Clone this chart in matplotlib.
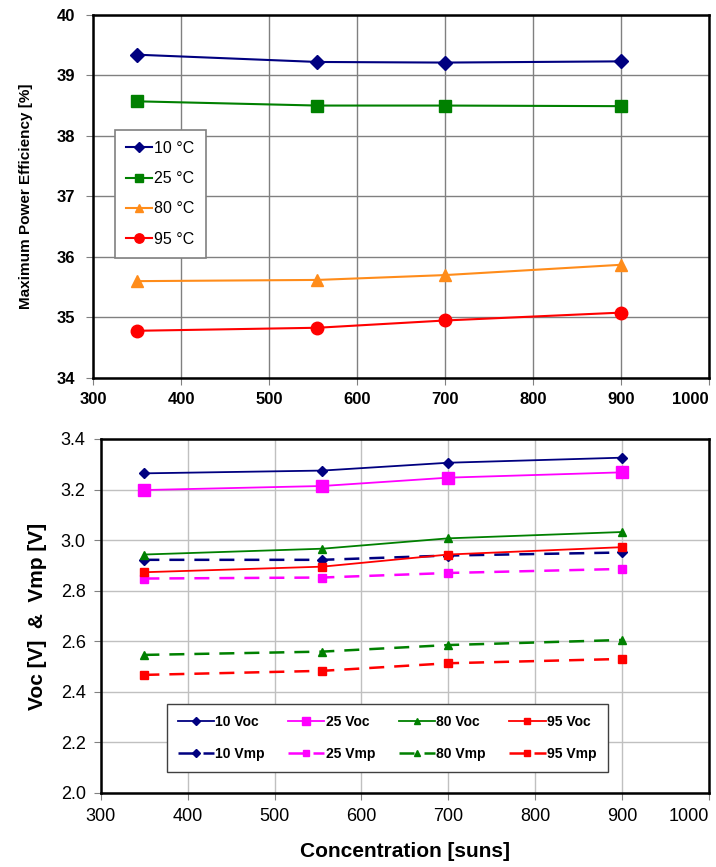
import matplotlib
matplotlib.use('Agg')
import matplotlib.pyplot as plt
from matplotlib.ticker import MultipleLocator, FormatStrFormatter

plt.rcParams['font.family'] = ['Liberation Sans', 'DejaVu Sans']

conc = [350, 555, 700, 900]

# top panel: max power efficiency [%]
eff_labels = ['10 °C', '25 °C', '80 °C', '95 °C']
eff_10 = [39.34, 39.22, 39.21, 39.23]
eff_25 = [38.57, 38.50, 38.50, 38.49]
eff_80 = [35.60, 35.62, 35.70, 35.87]
eff_95 = [34.78, 34.83, 34.95, 35.08]

# bottom panel: Voc / Vmp [V]
voc_10 = [3.264, 3.275, 3.306, 3.326]
voc_25 = [3.198, 3.214, 3.247, 3.268]
voc_80 = [2.943, 2.966, 3.007, 3.032]
voc_95 = [2.873, 2.895, 2.943, 2.972]
vmp_10 = [2.922, 2.922, 2.939, 2.951]
vmp_25 = [2.848, 2.852, 2.870, 2.886]
vmp_80 = [2.546, 2.559, 2.585, 2.605]
vmp_95 = [2.467, 2.483, 2.513, 2.530]

navy = '#000080'
green = '#008000'
orange = '#FF8C1A'
red = '#FF0000'
magenta = '#FF00FF'

fig = plt.figure(figsize=(7.16, 8.67), dpi=100)

# ---- top
ax1 = fig.add_axes([0.130, 0.564, 0.860, 0.419])
ax1.plot(conc, eff_10, color=navy, marker='D', ms=7, lw=1.5, label=eff_labels[0])
ax1.plot(conc, eff_25, color=green, marker='s', ms=8, lw=1.5, label=eff_labels[1])
ax1.plot(conc, eff_80, color=orange, marker='^', ms=8, lw=1.5, label=eff_labels[2])
ax1.plot(conc, eff_95, color=red, marker='o', ms=9, lw=1.5, label=eff_labels[3])
ax1.set_xlim(300, 1000)
ax1.set_ylim(34, 40)
ax1.xaxis.set_major_locator(MultipleLocator(100))
ax1.yaxis.set_major_locator(MultipleLocator(1))
ax1.grid(True, color='#808080', lw=1.0)
ax1.set_axisbelow(True)
for s in ax1.spines.values():
    s.set_linewidth(1.8)
ax1.tick_params(labelsize=12, length=5, color='#808080')
ax1.tick_params(axis='x', pad=5)
ax1.tick_params(axis='y', pad=8)
ax1.set_ylabel('Maximum Power Efficiency [%]', fontsize=11, fontweight='bold', labelpad=17)
leg1 = ax1.legend(loc='upper left', bbox_to_anchor=(0.036, 0.683), fontsize=11.5,
                  frameon=True, fancybox=False, edgecolor='#808080', framealpha=1,
                  handlelength=1.6, labelspacing=0.95, borderpad=0.7, handletextpad=0.15,
                  markerscale=0.75, borderaxespad=0)
leg1.get_frame().set_linewidth(1.2)

# ---- bottom
dash = (0, (6, 4))
ax2 = fig.add_axes([0.141, 0.0854, 0.849, 0.4083])
ax2.plot(conc, voc_10, color=navy, marker='D', ms=5, lw=1.3, label='10 Voc')
ax2.plot(conc, vmp_10, color=navy, marker='D', ms=5, lw=1.8, ls=dash, label='10 Vmp')
ax2.plot(conc, voc_25, color=magenta, marker='s', ms=8, lw=1.3, label='25 Voc')
ax2.plot(conc, vmp_25, color=magenta, marker='s', ms=6, lw=1.8, ls=dash, label='25 Vmp')
ax2.plot(conc, voc_80, color=green, marker='^', ms=6, lw=1.3, label='80 Voc')
ax2.plot(conc, vmp_80, color=green, marker='^', ms=6, lw=1.8, ls=dash, label='80 Vmp')
ax2.plot(conc, voc_95, color=red, marker='s', ms=6, lw=1.3, label='95 Voc')
ax2.plot(conc, vmp_95, color=red, marker='s', ms=6, lw=1.8, ls=dash, label='95 Vmp')
ax2.set_xlim(300, 1000)
ax2.set_ylim(2.0, 3.4)
ax2.xaxis.set_major_locator(MultipleLocator(100))
ax2.yaxis.set_major_locator(MultipleLocator(0.2))
ax2.yaxis.set_major_formatter(FormatStrFormatter('%.1f'))
ax2.grid(True, color='#C0C0C0', lw=1.0)
ax2.set_axisbelow(True)
for s in ax2.spines.values():
    s.set_linewidth(1.8)
ax2.tick_params(labelsize=13, length=5, color='#808080', pad=6)
ax2.set_ylabel('Voc [V]  &  Vmp [V]', fontsize=15, fontweight='bold', labelpad=10)
ax2.set_xlabel('Concentration [suns]', fontsize=15, fontweight='bold', labelpad=12)
leg2 = ax2.legend(loc='upper left', bbox_to_anchor=(0.108, 0.252), ncol=4, fontsize=10,
                  frameon=True, fancybox=False, edgecolor='#404040', framealpha=1,
                  handlelength=2.6, columnspacing=1.7, labelspacing=1.3, borderpad=0.8,
                  handletextpad=0.1, markerscale=0.8, borderaxespad=0)
leg2.get_frame().set_linewidth(1.0)
for t in leg2.get_texts():
    t.set_fontweight('bold')

# bold ticks on top panel, keep "1000" inside the figure
fig.canvas.draw()
for t in ax1.get_xticklabels() + ax1.get_yticklabels():
    t.set_fontweight('bold')
for ax in (ax1, ax2):
    for t in ax.get_xticklabels():
        if t.get_text() == '1000':
            t.set_horizontalalignment('right')
            t.set_x(t.get_position()[0])

fig.savefig('out.png', dpi=100)
